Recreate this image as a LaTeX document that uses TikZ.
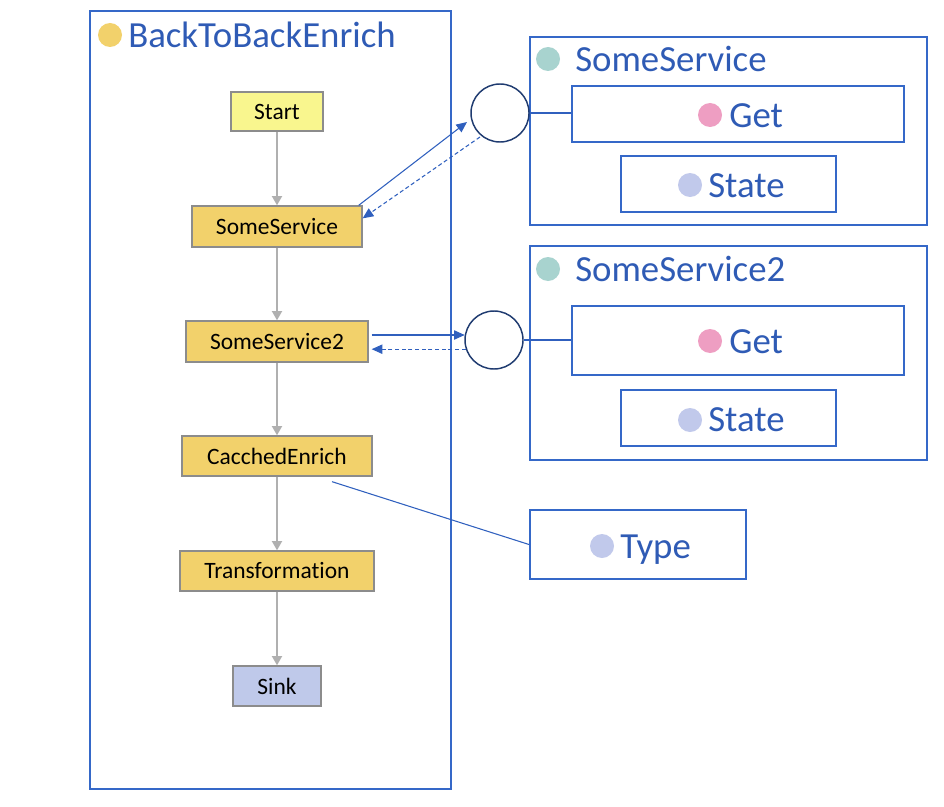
\documentclass[tikz,border=0pt]{standalone}
\usepackage{fontspec}
\setmainfont{Carlito}[Ligatures={NoCommon}]
\usetikzlibrary{arrows.meta,calc}
\definecolor{boxblue}{HTML}{3568C8}
\definecolor{txtblue}{HTML}{2F5BB5}
\definecolor{linkblue}{HTML}{3060BE}
\definecolor{portblue}{HTML}{1F3B70}
\definecolor{flowgray}{HTML}{8C8C8C}
\definecolor{arrgray}{HTML}{B0B0B0}
\definecolor{startfill}{HTML}{F9F68E}
\definecolor{stepfill}{HTML}{F2D16B}
\definecolor{sinkfill}{HTML}{BFC9EA}
\definecolor{dotyellow}{HTML}{F2D16B}
\definecolor{dotteal}{HTML}{A8D3CF}
\definecolor{dotpink}{HTML}{EE9EC2}
\definecolor{dotlav}{HTML}{C1C9EB}
\begin{document}
\begin{tikzpicture}[x=0.75pt,y=-0.75pt,
  flow/.style={draw=flowgray, line width=1pt, font=\fontsize{17.6}{21}\selectfont, inner sep=0pt, align=center},
  garrow/.style={draw=arrgray, line width=1.5pt, -{Triangle[length=7pt,width=7.5pt,fill=arrgray]}},
  cont/.style={draw=boxblue, line width=1.5pt, inner sep=0pt},
  dotn/.style={circle, inner sep=0pt, minimum size=18pt},
  lbl/.style={text=txtblue, font=\fontsize{27.6}{32}\selectfont, inner sep=0pt, anchor=west, text height=17.8pt, text depth=0pt},
  port/.style={circle, draw=portblue, line width=1.1pt, minimum size=43.5pt, inner sep=0pt, fill=white},
  link/.style={draw=linkblue, line width=0.8pt},
  sarrow/.style={link, -{Triangle[length=8pt,width=7pt,fill=linkblue]}},
  darrow/.style={link, dash pattern=on 3pt off 2pt, -{Triangle[length=8pt,width=7pt,fill=linkblue]}}
]
\useasboundingbox (0,0) rectangle (944,806);

% main container
\node[cont, minimum width=270.75pt, minimum height=583.5pt] (main) at (270.5,400) {};
\node[dotn, fill=dotyellow] (dmain) at (110,35) {};
\node[lbl] (tmain) at (128,36) {BackToBackEnrich};

% flow nodes
\node[flow, fill=startfill, minimum width=69pt, minimum height=29.25pt] (start) at (277,111.5) {Start};
\node[flow, fill=stepfill, minimum width=127.5pt, minimum height=30.75pt] (ss) at (277,226.5) {SomeService};
\node[flow, fill=stepfill, minimum width=136.5pt, minimum height=30.75pt] (ss2) at (277,341.5) {SomeService2};
\node[flow, fill=stepfill, minimum width=142.5pt, minimum height=30pt] (ce) at (277,456) {CacchedEnrich};
\node[flow, fill=stepfill, minimum width=145.5pt, minimum height=30pt] (tr) at (277,571) {Transformation};
\node[flow, fill=sinkfill, minimum width=66pt, minimum height=30pt] (sink) at (277,686) {Sink};

\draw[garrow] (start) -- (ss);
\draw[garrow] (ss) -- (ss2);
\draw[garrow] (ss2) -- (ce);
\draw[garrow] (ce) -- (tr);
\draw[garrow] (tr) -- (sink);

% right container 1
\node[cont, minimum width=297.75pt, minimum height=141pt] (svc1) at (728.5,131) {};
\node[dotn, fill=dotteal] (dsvc1) at (548,59) {};
\node[lbl] (tsvc1) at (575,60) {SomeService};
\node[cont, minimum width=249pt, minimum height=42pt] (get1) at (738,114) {};
\node[dotn, fill=dotpink] (dget1) at (710,115) {};
\node[lbl] (tget1) at (729,116) {Get};
\node[cont, minimum width=161.25pt, minimum height=42pt] (st1) at (728.5,184) {};
\node[dotn, fill=dotlav] (dst1) at (690,185) {};
\node[lbl] (tst1) at (708,186) {State};

% right container 2
\node[cont, minimum width=297.75pt, minimum height=160.5pt] (svc2) at (728.5,353) {};
\node[dotn, fill=dotteal] (dsvc2) at (548,269) {};
\node[lbl] (tsvc2) at (575,270) {SomeService2};
\node[cont, minimum width=249pt, minimum height=51.75pt] (get2) at (738,340.5) {};
\node[dotn, fill=dotpink] (dget2) at (710,341) {};
\node[lbl] (tget2) at (729,342) {Get};
\node[cont, minimum width=161.25pt, minimum height=42pt] (st2) at (728.5,418) {};
\node[dotn, fill=dotlav] (dst2) at (690,420) {};
\node[lbl] (tst2) at (708,420) {State};

% type box
\node[cont, minimum width=162pt, minimum height=51.75pt] (type) at (638,544.5) {};
\node[dotn, fill=dotlav] (dtype) at (602,546) {};
\node[lbl] (ttype) at (620,547) {Type};

% ports
\node[port] (c1) at (500,113) {};
\node[port] (c2) at (494,340) {};
\draw[link] (c1.east) -- (c1.east -| get1.west);
\draw[link] (c2.east) -- (c2.east -| get2.west);

% SomeService <-> port 1
\coordinate (a1s) at ($(ss.north east)+(-4,0)$);
\coordinate (a1e) at ($(c1.center)+(-33,9)$);
\draw[sarrow] (a1s) -- (a1e);
\coordinate (b1s) at ($(c1.center)+(-20,24)$);
\coordinate (b1e) at ($(ss.north east)+(0,13)$);
\draw[darrow] (b1s) -- (b1e);

% SomeService2 <-> port 2
\coordinate (a2s) at ($(ss2.east)+(3,-6.5)$);
\draw[sarrow] (a2s) -- (a2s -| c2.170);
\coordinate (b2e) at ($(ss2.east)+(3,7.5)$);
\draw[darrow] (c2.198) -- (c2.198 -| b2e);

% CacchedEnrich -- Type
\coordinate (ces) at ($(ce.south)+(55,5)$);
\draw[link] (ces) -- (type.west);
\end{tikzpicture}
\end{document}
